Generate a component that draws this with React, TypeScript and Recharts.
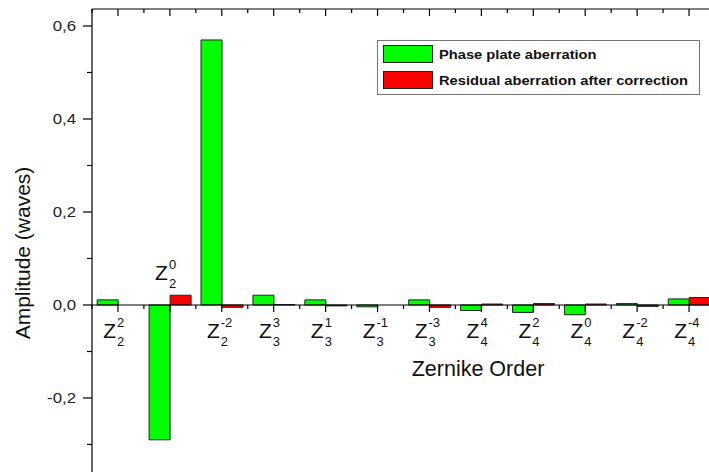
import { BarChart, Bar, XAxis, YAxis, ReferenceLine, ReferenceDot, Legend } from "recharts"

// Zernike terms: subscript n, superscript m
const zernN = ["2", "2", "2", "3", "3", "3", "3", "4", "4", "4", "4", "4"]
const zernM = ["2", "0", "-2", "3", "1", "-1", "-3", "4", "2", "0", "-2", "-4"]

const phasePlate = [0.011, -0.29, 0.57, 0.021, 0.011, -0.004, 0.011, -0.012, -0.016, -0.021, 0.003, 0.013]
const residual = [0.0, 0.021, -0.005, 0.001, -0.002, 0.0, -0.005, 0.002, 0.003, 0.002, -0.003, 0.016]

const yTicks = [-0.3, -0.2, -0.1, 0, 0.1, 0.2, 0.3, 0.4, 0.5, 0.6]

const FONT = '"Liberation Sans", Arial, sans-serif'
const W = 730
const H = 490
const M = { top: 0, right: 15, bottom: 13, left: 0 }
const Y_W = 92
const BAND = (W - M.left - M.right - Y_W) / zernN.length

const data = zernN.map((n, i) => ({
    name: `Z${n}^${zernM[i]}`,
    phase: phasePlate[i],
    residual: residual[i],
}))

const fmt = (v: number) => v.toFixed(1).replace(".", ",")

function YTick(props: any) {
    const { x, y, payload } = props
    const major = Math.abs(Math.round(payload.value * 10)) % 2 === 0
    return (
        <g>
            <line x1={x - (major ? 9 : 5)} x2={x} y1={y} y2={y} stroke="#000" strokeWidth={1.2} />
            {major && (
                <text transform={`translate(${x - 16},${y + 5}) scale(1.2,1)`} textAnchor="end" fontSize={14} fill="#222" fontFamily={FONT}>
                    {fmt(payload.value)}
                </text>
            )}
        </g>
    )
}

function TopTick(props: any) {
    const { x, y, index } = props
    return (
        <g stroke="#000" strokeWidth={1.2}>
            <line x1={x} x2={x} y1={y} y2={y + 7} />
            <line x1={x - BAND / 2} x2={x - BAND / 2} y1={y} y2={y + 4} />
            {index === zernN.length - 1 && <line x1={x + BAND / 2} x2={x + BAND / 2} y1={y} y2={y + 4} />}
        </g>
    )
}

function zLabel(cx: number, cy: number, i: number) {
    // the label goes above the axis when the bar hangs below it
    const above = phasePlate[i] < -0.1
    const zy = above ? cy - 25 : cy + 33
    return (
        <g fontFamily={FONT} fill="#111">
            <g stroke="#000" strokeWidth={1.2}>
                <line x1={cx} x2={cx} y1={cy} y2={cy + 7} />
                <line x1={cx - BAND / 2} x2={cx - BAND / 2} y1={cy} y2={cy + 4} />
                {i === zernN.length - 1 && <line x1={cx + BAND / 2} x2={cx + BAND / 2} y1={cy} y2={cy + 4} />}
            </g>
            <text x={cx - 2} y={zy} fontSize={21} textAnchor="end">Z</text>
            <text x={cx - 1} y={zy - 11} fontSize={13}>{zernM[i]}</text>
            <text x={cx - 1} y={zy + 8} fontSize={13}>{zernN[i]}</text>
        </g>
    )
}

function LegendBox() {
    const rows = [
        { color: "#00ff00", label: "Phase plate aberration" },
        { color: "#ff0000", label: "Residual aberration after correction" },
    ]
    return (
        <div style={{ width: 321, height: 53, border: "1px solid #777", background: "#fff", boxSizing: "content-box", fontFamily: FONT }}>
            {rows.map((r, i) => (
                <div key={i} style={{ display: "flex", alignItems: "center", marginTop: i === 0 ? 4 : 8, marginLeft: 5 }}>
                    <div style={{ width: 48, height: 16, background: r.color, border: "1px solid #222" }} />
                    <span style={{ marginLeft: 6, fontSize: 13, fontWeight: "bold", color: "#111", display: "inline-block", transform: "scaleX(1.13)", transformOrigin: "left center", whiteSpace: "nowrap" }}>
                        {r.label}
                    </span>
                </div>
            ))}
        </div>
    )
}

export default function App() {
    return (
        <div style={{ position: "fixed", left: 0, top: 0, width: 709, height: 472, overflow: "hidden", background: "#fff" }}>
            <BarChart width={W} height={H} data={data} margin={M} barCategoryGap="10%" barGap={0}>
                <XAxis
                    dataKey="name"
                    orientation="top"
                    height={9}
                    tickSize={0}
                    tickMargin={0}
                    interval={0}
                    tick={<TopTick />}
                    axisLine={{ stroke: "#000", strokeWidth: 1.2 }}
                />
                <YAxis
                    width={Y_W}
                    domain={[-0.37, 0.6366]}
                    ticks={yTicks}
                    allowDataOverflow
                    tickSize={0}
                    tickMargin={0}
                    tickLine={false}
                    tick={<YTick />}
                    axisLine={{ stroke: "#000", strokeWidth: 1.2 }}
                    label={{
                        content: (p: any) => {
                            const vb = p.viewBox
                            const cy = vb.y + vb.height / 2 + 10
                            return (
                                <text x={30} y={cy} transform={`rotate(-90, 30, ${cy})`} textAnchor="middle" fontSize={21} fill="#111" fontFamily={FONT}>
                                    Amplitude (waves)
                                </text>
                            )
                        },
                    }}
                />
                <Legend
                    layout="vertical"
                    align="center"
                    verticalAlign="middle"
                    wrapperStyle={{ left: 377, top: 40, width: 323 }}
                    content={() => <LegendBox />}
                />
                <Bar dataKey="phase" name="Phase plate aberration" fill="#00ff00" stroke="#222" strokeWidth={1} isAnimationActive={false} />
                <Bar dataKey="residual" name="Residual aberration after correction" fill="#ff0000" stroke="#222" strokeWidth={1} isAnimationActive={false} />
                <ReferenceLine
                    y={0}
                    stroke="#000"
                    strokeWidth={1.2}
                    label={{
                        content: (p: any) => (
                            <text x={p.viewBox.x + 386} y={p.viewBox.y + 71} textAnchor="middle" fontSize={21.5} fill="#111" fontFamily={FONT}>
                                Zernike Order
                            </text>
                        ),
                    }}
                />
                {data.map((d, i) => (
                    <ReferenceDot
                        key={d.name}
                        x={d.name}
                        y={0}
                        r={0}
                        ifOverflow="visible"
                        shape={(p: any) => zLabel(p.cx, p.cy, i)}
                    />
                ))}
            </BarChart>
        </div>
    )
}
